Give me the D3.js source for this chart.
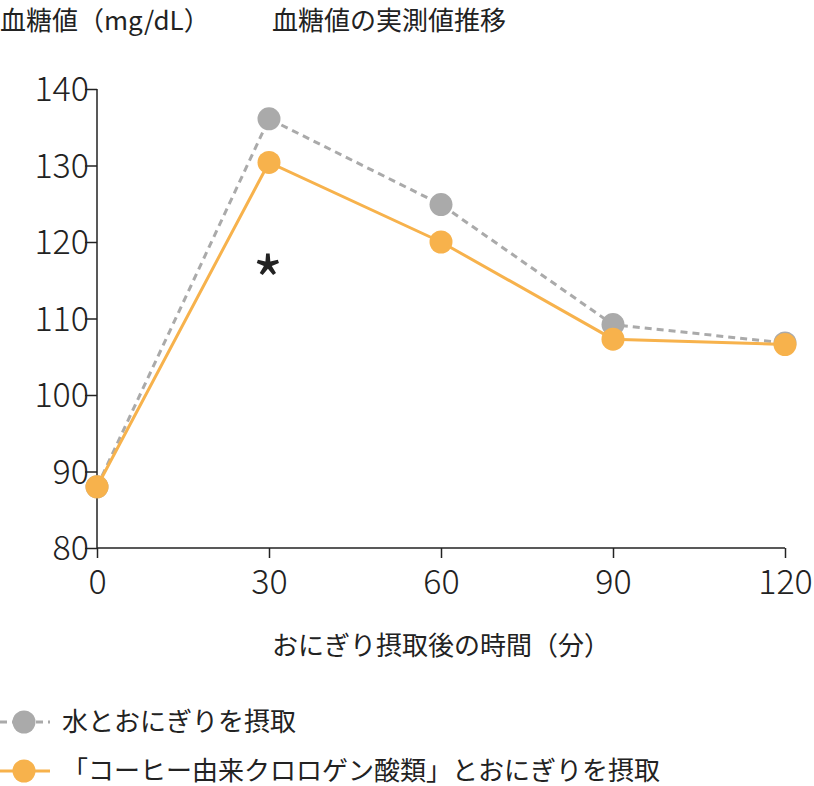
<!DOCTYPE html>
<html><head><meta charset="utf-8">
<script src="https://cdn.jsdelivr.net/npm/d3@7"></script>
<style>body{margin:0;background:#fff}text{font-family:"Noto Sans CJK JP","Noto Sans",sans-serif;fill:#222}</style>
</head><body><svg id="c" width="814" height="786"></svg>
<script>
const times=[0,30,60,90,120];
const waterValues=[88,136.1,124.9,109.2,106.8];
const coffeeValues=[88,130.4,120,107.3,106.6];
const yTicks=[80,90,100,110,120,130,140];
const seriesNames=["水とおにぎりを摂取","「コーヒー由来クロロゲン酸類」とおにぎりを摂取"];
const colors=["#aaaaaa","#f7b24c"];
const svg=d3.select("#c");
const x=d3.scaleLinear().domain([0,120]).range([97,785]);
const y=d3.scaleLinear().domain([80,140]).range([548,89]);
const ax=svg.append("g").attr("transform","translate(0,548)").call(d3.axisBottom(x).tickValues(times).tickSize(10).tickPadding(12));
const ay=svg.append("g").attr("transform","translate(97,0)").call(d3.axisLeft(y).tickValues(yTicks).tickSize(12).tickPadding(6));
[ax,ay].forEach(a=>{a.selectAll("path,line").attr("stroke","#222").attr("stroke-width",1.5);a.select(".domain").attr("d",a===ax?"M97,0H785":"M0,89V548");a.selectAll("text").attr("font-size",34).attr("font-family","Noto Sans").attr("font-weight",300).style("fill","#222");});
ay.selectAll("text").attr("dy","0.34em").attr("x",-8);
const line=d3.line().x((d,i)=>x(times[i])).y(d=>y(d));
[[waterValues,0],[coffeeValues,1]].forEach(([vals,k])=>{
  svg.append("path").attr("d",line(vals)).attr("fill","none").attr("stroke",colors[k]).attr("stroke-width",3).attr("stroke-dasharray",k===0?"7,5":null);
  svg.selectAll(null).data(vals).join("circle").attr("cx",(d,i)=>x(times[i])).attr("cy",d=>y(d)).attr("r",11.5).attr("fill",colors[k]);
});
svg.append("text").attr("x",x(30)-1).attr("y",306).attr("text-anchor","middle").attr("font-size",66).attr("font-family","DejaVu Serif").text("*");
svg.append("text").attr("x",0).attr("y",30).attr("font-size",26).text("血糖値（mg/dL）");
svg.append("text").attr("x",272).attr("y",30).attr("font-size",26).text("血糖値の実測値推移");
svg.append("text").attr("x",441).attr("y",655).attr("text-anchor","middle").attr("font-size",26).text("おにぎり摂取後の時間（分）");
seriesNames.forEach((n,k)=>{
  const yy=722+k*49;
  svg.append("line").attr("x1",0).attr("x2",50).attr("y1",yy).attr("y2",yy).attr("stroke",colors[k]).attr("stroke-width",3).attr("stroke-dasharray",k===0?"7,5":null);
  svg.append("circle").attr("cx",24).attr("cy",yy).attr("r",11.5).attr("fill",colors[k]);
  svg.append("text").attr("x",62).attr("y",yy+9).attr("font-size",26).text(n);
});
</script></body></html>
